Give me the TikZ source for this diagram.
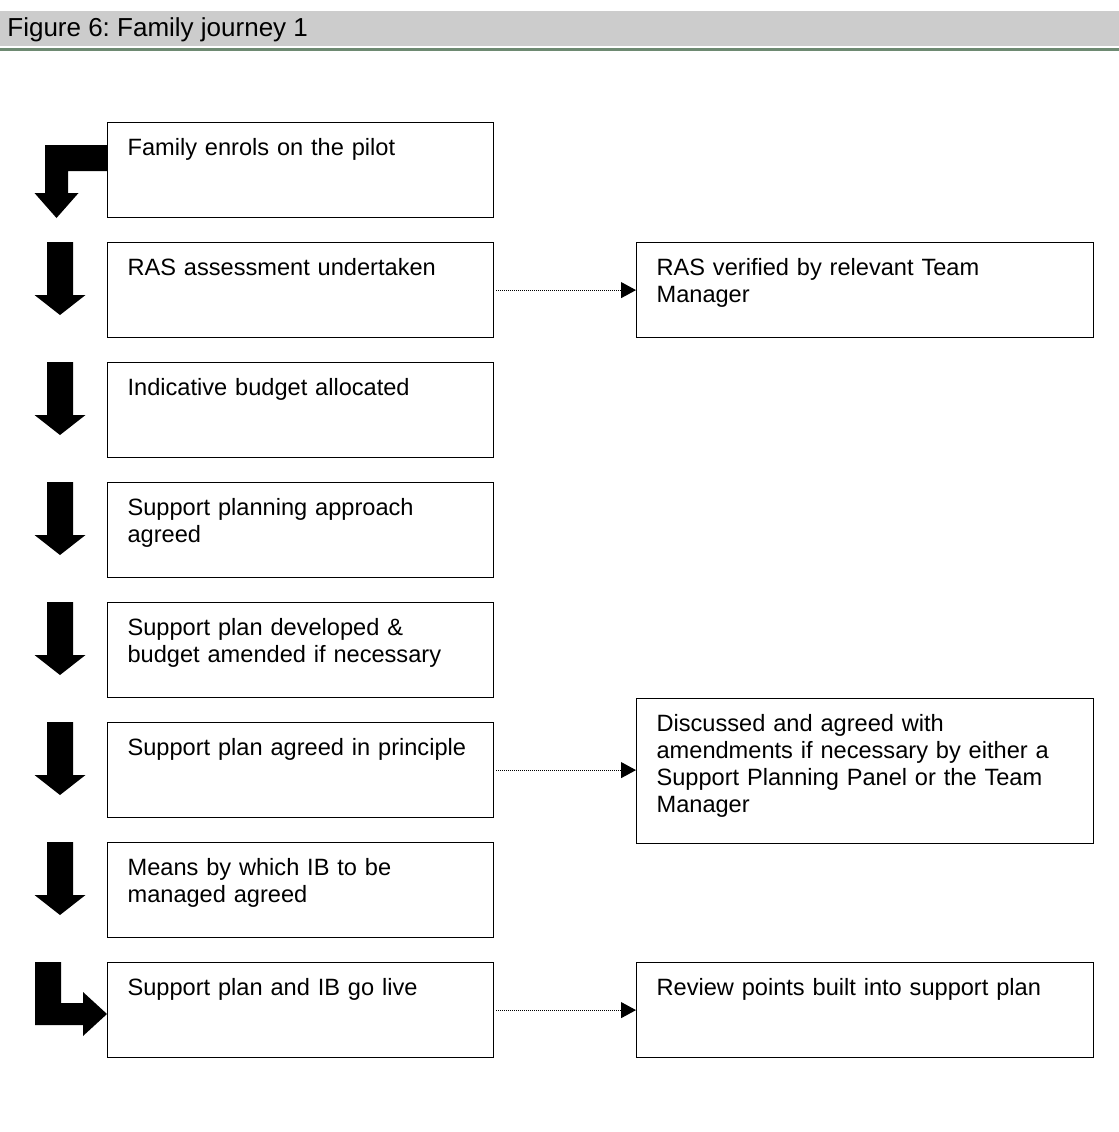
\documentclass[tikz,border=0pt]{standalone}
\usepackage{fontspec}
\setmainfont{Liberation Sans}
\usetikzlibrary{arrows.meta}
\frenchspacing
\hyphenpenalty=10000
\exhyphenpenalty=10000

\definecolor{bandgray}{RGB}{204,204,204}
\definecolor{rulegreen}{RGB}{110,138,114}

\tikzset{
  stepbox/.style={draw, line width=0.6pt, anchor=north west, align=left, inner xsep=10pt, inner ysep=0pt, text height=16.5pt, font=\fontsize{11.8}{13.4}\selectfont},
  leftbox/.style={stepbox, text width=173pt, text depth=31pt},
  sidebox/.style={stepbox, text width=208.5pt, text depth=#1},
  sidebox/.default=31pt,
  dotlink/.style={line width=0.5pt, dash pattern=on 0.5pt off 0.5pt, shorten <=1pt, -{Triangle[length=7.5pt,width=8pt]}}
}

\begin{document}
\begin{tikzpicture}[x=0.5pt,y=-0.5pt]
\useasboundingbox (0,0) rectangle (1119,1132);
% title band
\fill[bandgray] (0,11) rectangle (1119,45.7);
\fill[rulegreen] (0,47.5) rectangle (1119,50.5);
\node[anchor=base west, inner sep=0pt, font=\fontsize{13}{15}\selectfont] (title) at (7,36) {Figure 6: Family journey 1};
% steps
\node[leftbox] (enrol) at (107,122) {Family enrols on the pilot};
\node[leftbox] (ras) at (107,242) {RAS assessment undertaken};
\node[leftbox] (budget) at (107,362) {Indicative budget allocated};
\node[leftbox] (approach) at (107,482) {Support planning approach agreed};
\node[leftbox] (plandev) at (107,602) {Support plan developed \& budget amended if necessary};
\node[leftbox] (principle) at (107,722) {Support plan agreed in principle};
\node[leftbox] (means) at (107,842) {Means by which IB to be managed agreed};
\node[leftbox] (golive) at (107,962) {Support plan and IB go live};
% side boxes
\node[sidebox] (rasok) at (636,242) {RAS verified by relevant Team Manager};
\node[sidebox=56pt] (panel) at (636,698) {Discussed and agreed with amendments if necessary by either a Support Planning Panel or the Team Manager};
\node[sidebox] (review) at (636,962) {Review points built into support plan};
\draw[dotlink] (ras.east) -- (ras.east -| rasok.west);
\draw[dotlink] (principle.east) -- (principle.east -| panel.west);
\draw[dotlink] (golive.east) -- (golive.east -| review.west);
% block arrows
\fill (107,145) -- (107,171) -- (68,171) -- (68,193) -- (78.5,193) -- (56.5,218) -- (34.5,193) -- (45,193) -- (45,145) -- cycle;
\foreach \y in {242,362,482,602,722,842}
  \fill (47,\y) -- (73,\y) -- (73,\y+53) -- (85.5,\y+53) -- (60,\y+73) -- (34.5,\y+53) -- (47,\y+53) -- cycle;
\fill (35,962) -- (61,962) -- (61,1003) -- (83,1003) -- (83,992) -- (107,1014) -- (83,1036) -- (83,1025) -- (35,1025) -- cycle;
\end{tikzpicture}
\end{document}
